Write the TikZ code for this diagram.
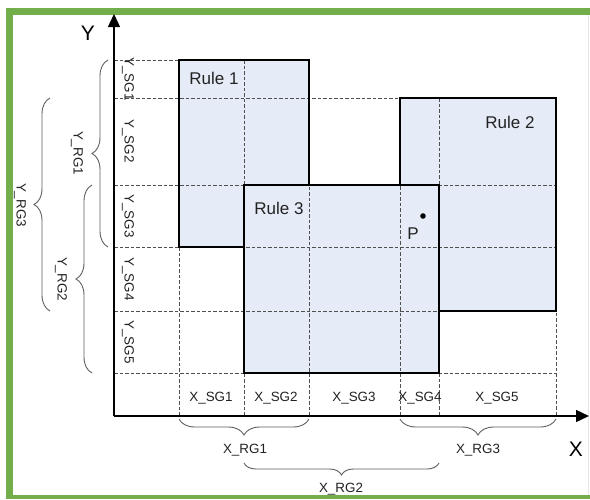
\documentclass[tikz,border=0pt]{standalone}
\usepackage{fontspec}
\setmainfont{Liberation Sans}
\usetikzlibrary{arrows.meta,decorations.pathreplacing}
\definecolor{frameg}{HTML}{72AE4A}
\definecolor{rulefill}{HTML}{E5ECF7}
\definecolor{gridc}{HTML}{505050}
\definecolor{bracec}{HTML}{606060}
\definecolor{textc}{HTML}{222222}
\tikzset{
  gridline/.style={gridc, line width=0.8pt, dash pattern=on 3.5pt off 2pt},
  ruleborder/.style={black, line width=1.8pt, line join=miter},
  rulearea/.style={fill=rulefill, draw=none},
  axisline/.style={black, line width=1.3pt, -{Triangle[length=13pt,width=12pt]}},
  smalllbl/.style={font=\fontsize{13.4}{15}\selectfont, text=textc, inner sep=0pt},
  rulelbl/.style={font=\fontsize{17}{19}\selectfont, text=textc, inner sep=0pt},
  axislbl/.style={font=\fontsize{21}{24}\selectfont, text=black, inner sep=0pt},
  bracebig/.style={bracec, line width=0.9pt, decorate, decoration={brace, amplitude=16pt}},
  bracemid/.style={bracec, line width=0.9pt, decorate, decoration={brace, amplitude=12pt}},
}
\begin{document}
\begin{tikzpicture}[x=1pt,y=-1pt]
\useasboundingbox (0,0) rectangle (590,499);
\clip (0,0) rectangle (590,499);
\fill[white] (0,0) rectangle (590,499);
% frame
\fill[frameg] (6,8) rectangle (590,15);
\fill[frameg] (6,8) rectangle (13,499);
\fill[frameg] (6,495) rectangle (590,499);
\fill[white] (584,15) rectangle (590,495);
\draw[black!10, line width=0.7pt] (588.8,15) -- (588.8,495);

% grid coordinates
\coordinate (O) at (114,416);
% rule areas
\fill[rulearea] (179,60) rectangle (309,247);
\fill[rulearea] (400,98) rectangle (556,311);
\fill[rulearea] (244,185) rectangle (439,373);

% dashed grid
\draw[gridline] (114,60) -- (179,60);
\draw[gridline] (114,98) -- (400,98);
\foreach \yy in {185,247,311,373} \draw[gridline] (114,\yy) -- (556,\yy);
\foreach \xx in {179,244,309} \draw[gridline] (\xx,60) -- (\xx,416);
\foreach \xx in {400,439,556} \draw[gridline] (\xx,98) -- (\xx,416);

% rule borders
\draw[ruleborder] (244,247) -- (179,247) -- (179,60) -- (309,60) -- (309,185);
\draw[ruleborder] (400,185) -- (400,98) -- (556,98) -- (556,311) -- (439,311);
\draw[ruleborder] (244,185) rectangle (439,373);

% axes
\coordinate (ytip) at (114,14);
\coordinate (xtip) at (589,416);
\draw[axisline] (O) -- (ytip);
\draw[axisline] (O) -- (xtip);
\node[axislbl] (ylbl) at (88,33) {Y};
\node[axislbl] (xlbl) at (576,449) {X};

% rule labels
\node[rulelbl] (r1) at (214,78) {Rule 1};
\node[rulelbl] (r2) at (510,122) {Rule 2};
\node[rulelbl] (r3) at (279,208) {Rule 3};
\fill (423,216) circle (2.8pt);
\node[rulelbl] (plbl) at (413,234) {P};

% Y segment labels
\node[smalllbl, rotate=-90] (ysg1) at (128,79) {Y\_SG1};
\node[smalllbl, rotate=-90] (ysg2) at (128,141) {Y\_SG2};
\node[smalllbl, rotate=-90] (ysg3) at (128,216) {Y\_SG3};
\node[smalllbl, rotate=-90] (ysg4) at (128,279) {Y\_SG4};
\node[smalllbl, rotate=-90] (ysg5) at (128,342) {Y\_SG5};

% X segment labels
\node[smalllbl] (xsg1) at (211,398) {X\_SG1};
\node[smalllbl] (xsg2) at (276,398) {X\_SG2};
\node[smalllbl] (xsg3) at (354,398) {X\_SG3};
\node[smalllbl] (xsg4) at (420,398) {X\_SG4};
\node[smalllbl] (xsg5) at (497,398) {X\_SG5};

% Y braces
\draw[bracebig] (108,247) -- (108,60);
\node[smalllbl, rotate=-90] (yrg1) at (77,153) {Y\_RG1};
\draw[bracebig] (92,373) -- (92,185);
\node[smalllbl, rotate=-90] (yrg2) at (61,279) {Y\_RG2};
\draw[bracebig] (50,311) -- (50,98);
\node[smalllbl, rotate=-90] (yrg3) at (20,205) {Y\_RG3};

% X braces
\draw[bracebig] (309,419) -- (179,419);
\node[smalllbl] (xrg1) at (245,450) {X\_RG1};
\draw[bracemid] (439,463) -- (244,463);
\node[smalllbl] (xrg2) at (341,489) {X\_RG2};
\draw[bracebig] (556,419) -- (400,419);
\node[smalllbl] (xrg3) at (478,450) {X\_RG3};
\end{tikzpicture}
\end{document}
